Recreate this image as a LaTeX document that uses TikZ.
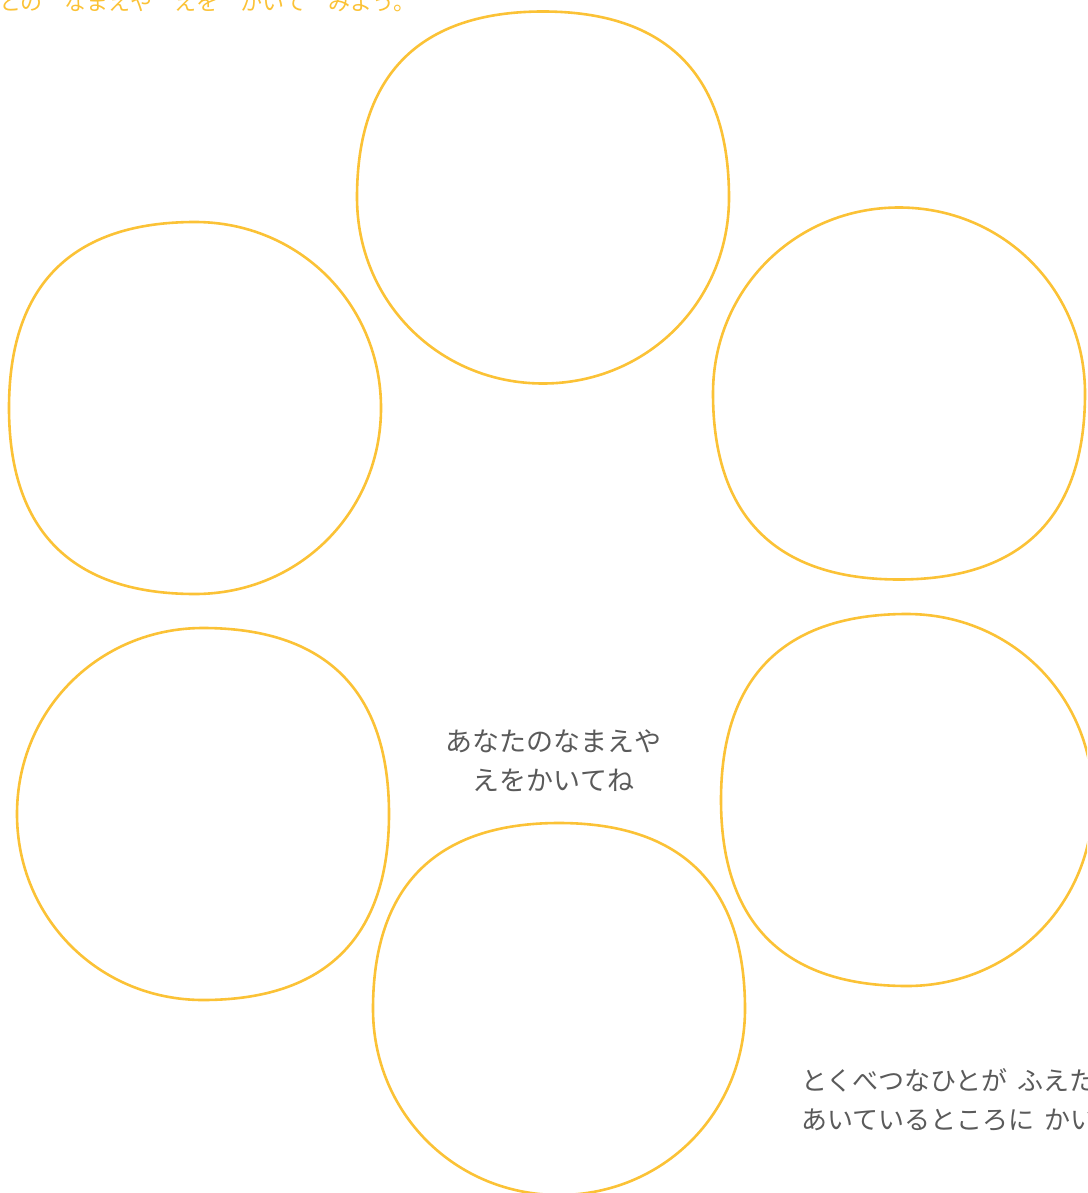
\documentclass[tikz,border=0pt]{standalone}
\usepackage{fontspec}
\newfontfamily\jpfont{Noto Sans CJK JP}
\definecolor{blobyellow}{HTML}{FBC236}
\definecolor{textgray}{HTML}{5A5A5A}
\newcommand\titlegap{\spaceskip=22pt\relax}
\newcommand\notegap{\spaceskip=10pt\relax}

\begin{document}
\begin{tikzpicture}[x=1pt,y=-1pt,
    blobline/.style={blobyellow, line width=2.6pt},
    note/.style={textgray, inner sep=0pt, font=\jpfont\fontsize{27}{39}\selectfont}]
  \useasboundingbox (0,0) rectangle (1087,1193);
  \clip (0,0) rectangle (1087,1193);
  % the six places to write in
  \foreach \cx/\cy/\rot in {543/197.5/0, 195/408/90, 899/393.5/180,
                            203/814/270, 907/800/90, 559/1009/0} {
    \draw[blobline, shift={(\cx,\cy)}, rotate=\rot]
      (0,-186) .. controls (123,-186) and (186,-123) .. (186,0)
      .. controls (186,104) and (104,186) .. (0,186)
      .. controls (-104,186) and (-186,104) .. (-186,0)
      .. controls (-186,-123) and (-123,-186) .. (0,-186) -- cycle;
  }
  \node[blobyellow, inner sep=0pt, anchor=base west,
        font=\jpfont\fontsize{22}{26}\selectfont\titlegap] (title) at (-1,10.5)
        {との なまえや えを かいて みよう。};
  \node[note, align=center] (hint) at (553.5,761) {あなたのなまえや\\えをかいてね};
  \node[note, align=left, anchor=north west,
        font=\jpfont\fontsize{26}{39}\selectfont\notegap]
        (extra) at (801,1068) {とくべつなひとが ふえた\\あいているところに かい};
\end{tikzpicture}
\end{document}
